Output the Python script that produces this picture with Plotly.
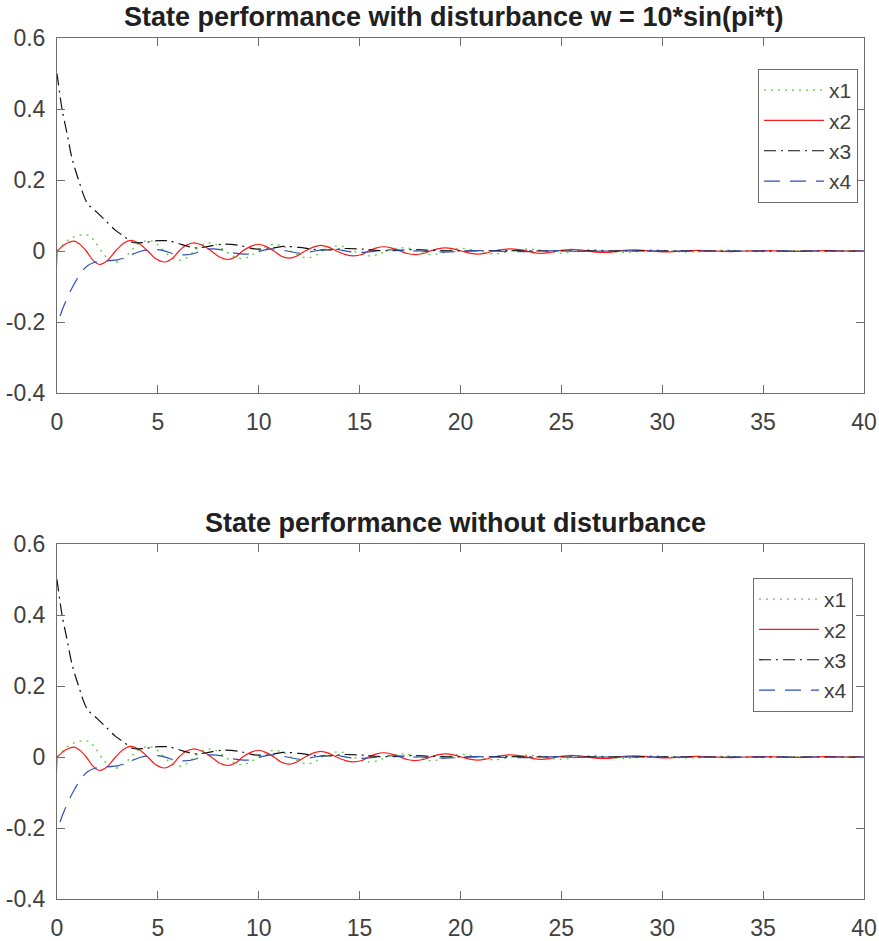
import plotly.graph_objects as go

# ---------------- data ----------------
t_x1 = [0, 0.3, 0.6, 0.95, 1.3, 1.6, 1.9, 2.3, 2.6, 2.9, 3.2, 3.5, 3.8, 4.1, 4.45, 4.75, 5.05, 5.4, 5.75, 6.1,
        6.45, 6.8, 7.15, 7.5, 7.85, 8.2, 8.6, 9.0, 9.35, 9.7, 10.1, 10.5, 10.85, 11.25, 11.7, 12.1, 12.5, 12.9, 13.3, 13.8,
        14.2, 14.6, 15.1, 15.55, 15.95, 16.4, 16.9, 17.4, 17.9, 18.4, 18.8, 19.3, 19.8, 20.2, 20.7, 21.2, 21.7, 22.2, 22.8, 23.4,
        23.9, 24.4, 24.9, 25.4, 25.9, 26.4, 26.9, 27.5, 28.1, 28.7, 29.4, 30.0, 30.9, 31.7, 32.5, 33.4, 34.2, 35.0, 36.0, 37.0,
        38.5, 40.0]
x1 = [0, 0.018, 0.033, 0.042, 0.046, 0.043, 0.025, -0.008, -0.026, -0.032, -0.025, -0.010, 0.008, 0.022, 0.029, 0.027, 0.015, -0.006, -0.020, -0.026,
      -0.018, 0.0, 0.016, 0.023, 0.019, 0.006, -0.010, -0.021, -0.020, -0.010, 0.004, 0.016, 0.019, 0.012, -0.004, -0.016, -0.019, -0.010, 0.006, 0.014,
      0.013, 0.003, -0.010, -0.014, -0.009, 0.002, 0.008, 0.008, -0.002, -0.010, -0.009, -0.002, 0.006, 0.007, 0.002, -0.005, -0.008, -0.004, 0.003, 0.005,
      0.003, -0.003, -0.0065, -0.004, 0.001, 0.004, 0.003, -0.002, -0.004, -0.002, 0.003, 0.002, -0.002, -0.0025, 0.001, 0.002, -0.001, -0.0015, 0.001, 0.0,
      0.0, 0.0]

t_x2 = [0, 0.42, 0.85, 1.15, 1.45, 1.8, 2.12, 2.5, 2.9, 3.3, 3.65, 4.05, 4.5, 4.9, 5.33, 5.7, 6.05, 6.4, 6.8, 7.2,
        7.65, 8.05, 8.45, 8.85, 9.2, 9.6, 9.97, 10.35, 10.75, 11.1, 11.5, 11.9, 12.3, 12.7, 13.06, 13.45, 13.85, 14.3, 14.7, 15.1,
        15.45, 15.8, 16.2, 16.6, 17.0, 17.35, 17.75, 18.15, 18.5, 18.85, 19.25, 19.65, 20.05, 20.45, 20.85, 21.25, 21.65, 22.05, 22.5, 22.9,
        23.3, 23.6, 24.0, 24.4, 24.8, 25.2, 25.5, 25.9, 26.3, 26.7, 27.1, 27.5, 27.85, 28.65, 29.45, 30.2, 31.0, 31.8, 32.6, 33.4,
        34.2, 35.0, 35.8, 36.6, 37.4, 38.2, 39.0, 40.0]
x2 = [0, 0.020, 0.028, 0.018, 0.0, -0.027, -0.038, -0.027, 0.0, 0.022, 0.030, 0.022, 0.0, -0.022, -0.031, -0.022, 0.0, 0.016, 0.023, 0.016,
      0.0, -0.017, -0.024, -0.017, 0.0, 0.013, 0.019, 0.013, 0.0, -0.014, -0.020, -0.014, 0.0, 0.011, 0.016, 0.011, 0.0, -0.010, -0.014, -0.010,
      0.0, 0.008, 0.012, 0.008, 0.0, -0.007, -0.010, -0.007, 0.0, 0.006, 0.009, 0.006, 0.0, -0.006, -0.009, -0.006, 0.0, 0.004, 0.006, 0.004,
      0.0, -0.0045, -0.0065, -0.0045, 0.0, 0.003, 0.0045, 0.003, 0.0, -0.003, -0.004, -0.003, 0.0, 0.003, 0.0, -0.0025, 0.0, 0.002, 0.0, -0.0015,
      0.0, 0.001, 0.0, -0.001, 0.0, 0.0008, 0.0, 0.0]

t_x3 = [0, 0.25, 0.5, 0.75, 1.07, 1.5, 2.0, 2.4, 2.9, 3.3, 3.77, 4.3, 5.0, 5.6, 6.2, 6.8, 7.4, 8.2, 9.0, 9.8,
        10.5, 11.2, 12.0, 12.8, 13.5, 14.3, 15.2, 16.0, 17.0, 17.6, 18.5, 20.0, 22.0, 25.0, 28.0, 32.0, 36.0, 40.0]
x3 = [0.5, 0.4, 0.33, 0.26, 0.2, 0.135, 0.108, 0.086, 0.058, 0.042, 0.024, 0.024, 0.029, 0.028, 0.018, 0.009, 0.012, 0.019, 0.016, 0.006,
      0.006, 0.013, 0.010, 0.004, 0.003, 0.007, 0.005, 0.001, 0.002, 0.004, 0.002, 0.0, 0.001, 0.0, 0.0005, 0.0, 0.0, 0.0]

t_x4 = [0, 0, 0.3, 0.6, 0.9, 1.2, 1.5, 1.8, 2.2, 2.6, 3.0, 3.4, 3.8, 4.2, 4.6, 5.0, 5.4, 5.9, 6.3, 6.8,
        7.2, 7.6, 8.1, 8.6, 9.1, 9.6, 10.2, 10.8, 11.4, 12.0, 12.6, 13.2, 13.8, 14.4, 15.0, 15.6, 16.2, 16.8, 17.4, 18.0,
        18.6, 19.2, 19.8, 20.6, 21.4, 22.2, 23.0, 24.0, 25.0, 26.0, 27.5, 29.0, 31.0, 34.0, 37.0, 40.0]
x4 = [0, -0.2, -0.16, -0.12, -0.088, -0.06, -0.042, -0.033, -0.029, -0.027, -0.025, -0.017, -0.008, 0.0, 0.004, 0.004, -0.001, -0.010, -0.011, -0.007,
      0.002, 0.006, 0.004, -0.004, -0.008, -0.008, 0.002, 0.006, 0.0, -0.006, -0.002, 0.004, 0.005, -0.001, -0.004, -0.002, 0.003, 0.003, 0.0, 0.0,
      -0.002, -0.003, -0.002, 0.001, 0.001, -0.001, -0.002, 0.0, 0.001, -0.001, 0.0, 0.0005, -0.0005, 0.0, 0.0, 0.0]

series_names = ["x1", "x2", "x3", "x4"]
titles = ["State performance with disturbance w = 10*sin(pi*t)",
          "State performance without disturbance"]
x_ticks = [0, 5, 10, 15, 20, 25, 30, 35, 40]
y_ticks = [-0.4, -0.2, 0, 0.2, 0.4, 0.6]
y_ticktext = ["-0.4", "-0.2", "0", "0.2", "0.4", "0.6"]

# ---------------- styling ----------------
FONT = "Liberation Sans, Arial, Helvetica, sans-serif"
AX_COL = "#6e6e6e"
TXT_COL = "#404040"
styles = [
    dict(color="#5CCB3C", dash="2px,5px", width=1.3),
    dict(color="#FF1A1A", dash="solid", width=1.2),
    dict(color="#111111", dash="12px,5px,2px,5px", width=1.2),
    dict(color="#2D4FB4", dash="16px,10px", width=1.2),
]
series = [(t_x1, x1), (t_x2, x2), (t_x3, x3), (t_x4, x4)]

fig = go.Figure()
for p, (xa, ya, lg) in enumerate([("x", "y", "legend"), ("x2", "y2", "legend2")]):
    for i, (tt, vv) in enumerate(series):
        fig.add_trace(go.Scatter(
            x=tt, y=vv, mode="lines", name=series_names[i],
            line=dict(shape="spline", smoothing=0.9, **styles[i]),
            xaxis=xa, yaxis=ya, legend=lg, showlegend=True))

W, H = 879, 941
x_dom = [57 / W, 864 / W]
y_dom1 = [1 - 393 / H, 1 - 38 / H]
y_dom2 = [1 - 899 / H, 1 - 544 / H]

def xaxis(anchor):
    return dict(domain=x_dom, anchor=anchor, range=[0, 40], tickvals=x_ticks, automargin=False,
                ticks="inside", ticklen=8, tickcolor=AX_COL, showline=True, linecolor=AX_COL,
                linewidth=1, mirror="ticks", showgrid=False, zeroline=False, ticklabelstandoff=8,
                ticklabeloverflow="allow",
                tickfont=dict(family=FONT, size=23, color=TXT_COL))

def yaxis(anchor, dom):
    return dict(domain=dom, anchor=anchor, range=[-0.4, 0.6], tickvals=y_ticks, ticktext=y_ticktext,
                automargin=False, ticks="inside", ticklen=8, tickcolor=AX_COL, showline=True, linecolor=AX_COL,
                linewidth=1, mirror="ticks", showgrid=False, zeroline=False, ticklabelstandoff=6,
                ticklabeloverflow="allow",
                tickfont=dict(family=FONT, size=23, color=TXT_COL))

legend_common = dict(bgcolor="white", bordercolor=AX_COL, borderwidth=1,
                     font=dict(family=FONT, size=21, color=TXT_COL),
                     xanchor="right", yanchor="top", tracegroupgap=0, itemwidth=60)

fig.update_layout(
    width=W, height=H, margin=dict(l=0, r=0, t=0, b=0),
    paper_bgcolor="white", plot_bgcolor="white",
    xaxis=xaxis("y"), yaxis=yaxis("x", y_dom1),
    xaxis2=xaxis("y2"), yaxis2=yaxis("x2", y_dom2),
    legend=dict(x=858 / W, y=1 - 69 / H, **legend_common),
    legend2=dict(x=853 / W, y=1 - 578 / H, **legend_common),
    annotations=[
        dict(text="<b>" + titles[0] + "</b>", x=453 / W, y=1 - 17 / H, xref="paper", yref="paper",
             xanchor="center", yanchor="middle", showarrow=False,
             font=dict(family=FONT, size=27, color="#202020")),
        dict(text="<b>" + titles[1] + "</b>", x=456 / W, y=1 - 523 / H, xref="paper", yref="paper",
             xanchor="center", yanchor="middle", showarrow=False,
             font=dict(family=FONT, size=27, color="#202020")),
    ],
)

fig.write_html("out.html")
